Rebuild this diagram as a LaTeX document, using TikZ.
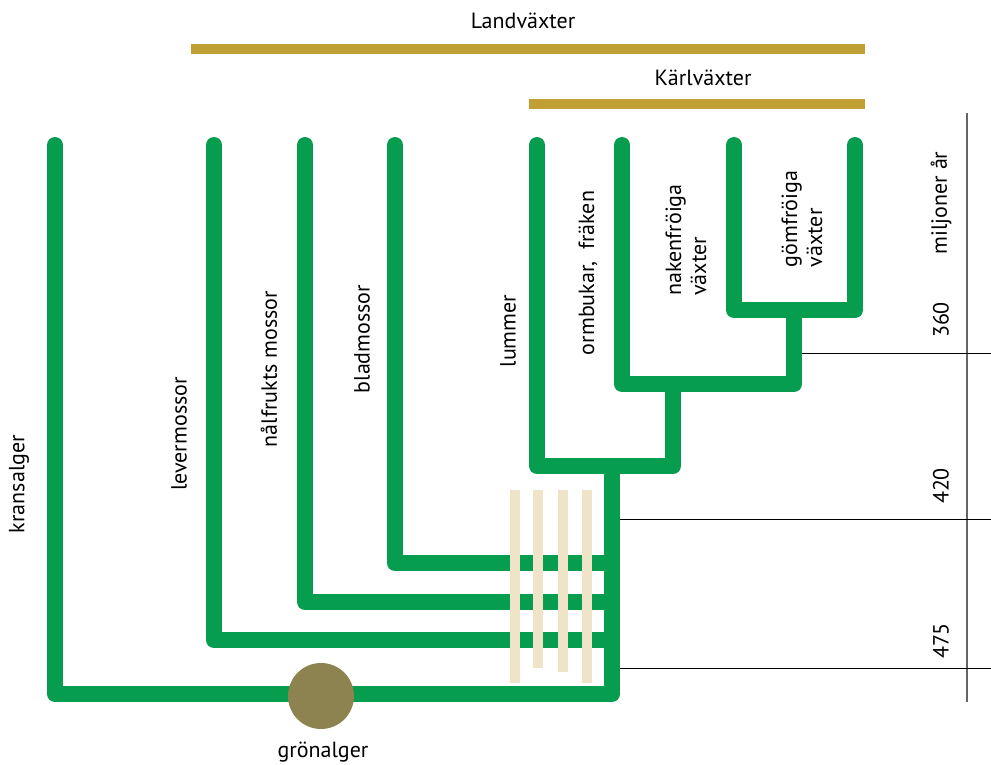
\documentclass[tikz,border=0pt]{standalone}
\usepackage{fontspec}
\setmainfont{PT Sans}
\definecolor{tgreen}{HTML}{069D4E}
\definecolor{tgold}{HTML}{C0A035}
\definecolor{tbeige}{HTML}{EFE3C8}
\definecolor{tbrown}{HTML}{8C8350}
\begin{document}
\begin{tikzpicture}[x=1pt,y=-1pt,
  branch/.style={draw=tgreen,line width=16pt,line cap=round,line join=round},
  stem/.style={draw=tgreen,line width=16pt,line cap=butt},
  goldbar/.style={draw=tgold,line width=10pt},
  beigebar/.style={draw=tbeige,line width=10pt},
  tick/.style={draw=black,line width=1pt},
  lbl/.style={font=\fontsize{22}{25}\selectfont,inner sep=0pt},
  vlbl/.style={lbl,rotate=90,align=left}]
\useasboundingbox (0,0) rectangle (991,765);
% tips
\coordinate (kr) at (55,145);
\coordinate (le) at (214,145);
\coordinate (na) at (305,145);
\coordinate (bl) at (395,145);
\coordinate (lu) at (537,145);
\coordinate (nk) at (622,145);
\coordinate (g1) at (734,145);
\coordinate (g2) at (855,145);
% junctions
\coordinate (root) at (612,694);
\coordinate (jlu) at (612,466);
\coordinate (jk) at (673,466);
\coordinate (jn) at (794,384);
\coordinate (jg) at (794,310);
% gold bars
\node[lbl] (land) at (523,21) {Landväxter};
\coordinate (l1) at (191,49); \coordinate (l2) at (865,49);
\draw[goldbar] (l1) -- (l2);
\node[lbl] (karl) at (703,78) {Kärlväxter};
\coordinate (k1) at (529,104); \coordinate (k2) at (865,104);
\draw[goldbar] (k1) -- (k2);
% tree
\draw[branch] (kr) |- (root) -- (jlu |- 0,474);
\draw[stem] (jlu |- 0,475) -- (jlu);
\draw[branch] (le) |- (root |- 0,640);
\draw[branch] (na) |- (root |- 0,602);
\draw[branch] (bl) |- (root |- 0,563);
\draw[branch] (lu) |- (jk) -- (jk |- 0,392);
\draw[stem] (jk |- 0,393) -- (jk |- 0,384);
\draw[branch] (nk) |- (jn) -- (jg |- 0,318);
\draw[stem] (jg |- 0,319) -- (jg);
\draw[branch] (g1) |- (g2 |- jg) -- (g2);
% beige bars
\foreach \x/\b [count=\i] in {515/683,538/668,563/672,587/683}{
  \coordinate (bt\i) at (\x,490); \coordinate (bb\i) at (\x,\b);
  \draw[beigebar] (bt\i) -- (bb\i);
}
% circle
\node[circle,fill=tbrown,minimum size=66pt,inner sep=0pt] (gron) at (321,696) {};
\node[lbl] (gronl) at (323,752) {grönalger};
% labels
\node[vlbl] (kransl) at (19,484) {kransalger};
\node[vlbl] (levl) at (179,434) {levermossor};
\node[vlbl] (nall) at (269,369) {nålfrukts mossor};
\node[vlbl] (bladl) at (362,339) {bladmossor};
\node[vlbl] (luml) at (508,331) {lummer};
\node[vlbl] (orml) at (588,273) {ormbukar,\ \ fräken};
\node[vlbl] (nakl) at (686,240) {nakenfröiga\\växter};
\node[vlbl] (goml) at (802,219) {gömfröiga\\växter};
% time axis
\coordinate (at) at (967,113); \coordinate (ab) at (967,702);
\draw[draw=gray!80!black,line width=1.5pt] (at) -- (ab);
\coordinate (t1a) at (802,353); \coordinate (t1b) at (991,353);
\coordinate (t2a) at (620,519); \coordinate (t2b) at (991,519);
\coordinate (t3a) at (620,668); \coordinate (t3b) at (991,668);
\draw[tick] (t1a) -- (t1b);
\draw[tick] (t2a) -- (t2b);
\draw[tick] (t3a) -- (t3b);
\node[vlbl] (mil) at (941,203) {miljoner år};
\node[vlbl] (m360) at (941,320) {360};
\node[vlbl] (m420) at (941,486) {420};
\node[vlbl] (m475) at (941,641) {475};
\end{tikzpicture}
\end{document}
